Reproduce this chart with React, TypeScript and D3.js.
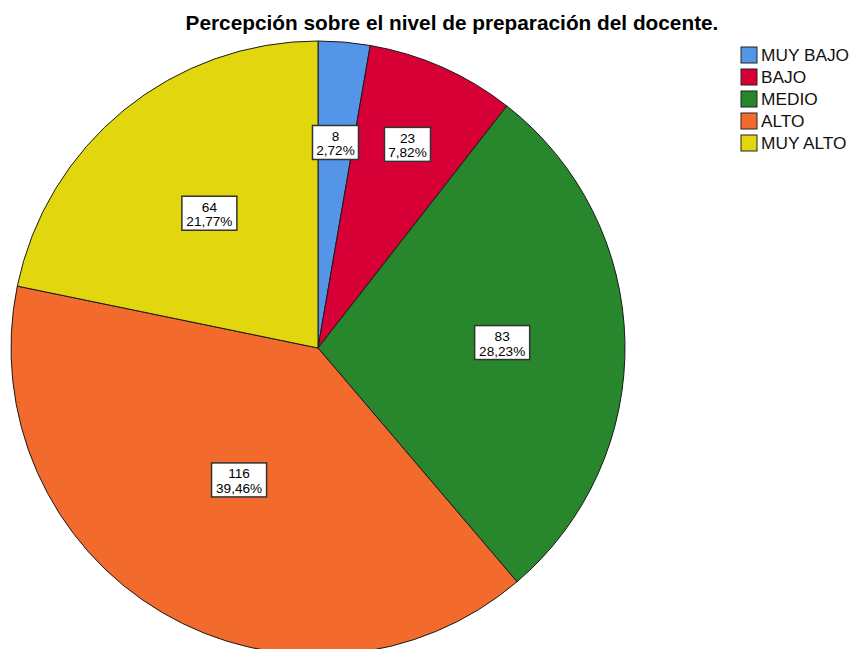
import React from "react";
import * as d3 from "d3";

const categories = ["MUY BAJO", "BAJO", "MEDIO", "ALTO", "MUY ALTO"];
const counts = [8, 23, 83, 116, 64];
const percentLabels = ["2,72%", "7,82%", "28,23%", "39,46%", "21,77%"];
const colors = ["#5595E7", "#D70036", "#28862C", "#F26A2C", "#E2D70F"];
const labelRadiusFrac = [0.667, 0.72, 0.6, 0.505, 0.56];
const title = "Percepción sobre el nivel de preparación del docente.";

const W = 852;
const H = 649;
const cx = 318;
const cy = 348;
const R = 307;

export default function App() {
  const pie = d3.pie<number>().sort(null).value((d) => d).startAngle(0).endAngle(2 * Math.PI);
  const arcs = pie(counts);
  const arcGen = d3.arc<d3.PieArcDatum<number>>().innerRadius(0).outerRadius(R);
  const font = "Arial, 'Liberation Sans', sans-serif";

  return (
    <svg
      width={W}
      height={H}
      style={{ position: "absolute", left: 0, top: 0, background: "#fff" }}
      fontFamily={font}
    >
      <rect x={0} y={0} width={W} height={H} fill="#fff" />
      <text x={452} y={30} textAnchor="middle" fontWeight="bold" fontSize={20.8} fill="#000">
        {title}
      </text>
      <g transform={`translate(${cx},${cy})`}>
        {arcs.map((a, i) => (
          <path key={i} d={arcGen(a) || ""} fill={colors[i]} stroke="#1a1a1a" strokeWidth={1} />
        ))}
        {arcs.map((a, i) => {
          const mid = (a.startAngle + a.endAngle) / 2;
          const r = R * labelRadiusFrac[i];
          const x = r * Math.sin(mid);
          const y = -r * Math.cos(mid);
          const bw = percentLabels[i].length > 5 ? 55 : 46;
          const bh = 34;
          return (
            <g key={"l" + i} transform={`translate(${x},${y})`}>
              <rect
                x={-bw / 2}
                y={-18.5}
                width={bw}
                height={bh}
                fill="#fff"
                stroke="#333"
                strokeWidth={1.5}
              />
              <text x={0} y={-3} textAnchor="middle" fontSize={13.6} fill="#000">
                {String(counts[i])}
              </text>
              <text x={0} y={11.5} textAnchor="middle" fontSize={13.6} fill="#000">
                {percentLabels[i]}
              </text>
            </g>
          );
        })}
      </g>
      <g transform="translate(741,47)">
        {categories.map((c, i) => (
          <g key={c} transform={`translate(0,${i * 22})`}>
            <rect x={0} y={0} width={16} height={16} fill={colors[i]} stroke="#222" strokeWidth={1} />
            <text x={20} y={14} fontSize={17.3} fill="#111">
              {c}
            </text>
          </g>
        ))}
      </g>
    </svg>
  );
}
